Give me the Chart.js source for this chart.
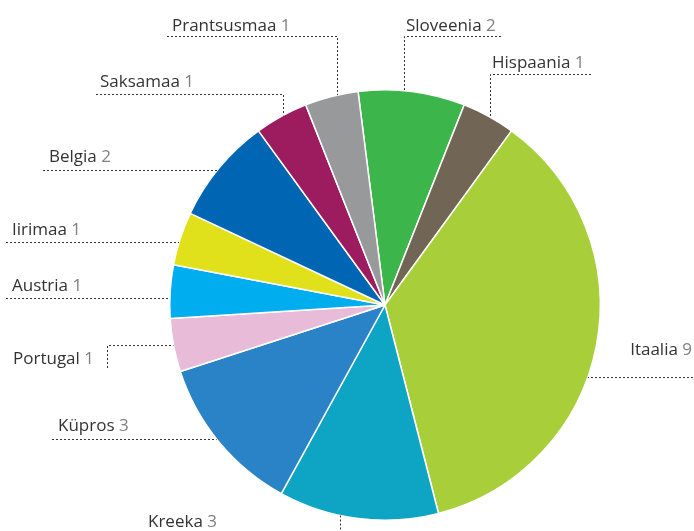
<!DOCTYPE html>
<html>
<head>
<meta charset="utf-8">
<script src="https://cdn.jsdelivr.net/npm/chart.js@4.4.1/dist/chart.umd.min.js"></script>
<style>
html,body{margin:0;padding:0;background:#fff;}
#wrap{width:694px;height:531px;position:relative;}
</style>
</head>
<body>
<div id="wrap"><canvas id="c" width="694" height="531"></canvas></div>
<script>
const categories = ["Sloveenia","Hispaania","Itaalia","Kreeka","Küpros","Portugal","Austria","Iirimaa","Belgia","Saksamaa","Prantsusmaa"];
const values = [2,1,9,3,3,1,1,1,2,1,1];
const colors = ["#3cb54a","#716555","#a8cf3a","#0ea5c4","#2a82c7","#e8bbd8","#00aeef","#e1e11b","#0066b3","#9c1c5f","#98999b"];

// Label layout: text position, and leader definition
const layout = {
  "Prantsusmaa": {tx:172, ty:31, align:"left", type:"v", hy:36, hx:167, vx:337},
  "Sloveenia":   {tx:406, ty:31, align:"left", type:"v", hy:36, hx:501, vx:404},
  "Hispaania":   {tx:492, ty:68, align:"left", type:"v", hy:74, hx:591, vx:490},
  "Saksamaa":    {tx:100, ty:87, align:"left", type:"v", hy:94, hx:96, vx:283},
  "Belgia":      {tx:49,  ty:162, align:"left", type:"h", hy:170, hx:43},
  "Iirimaa":     {tx:12,  ty:235, align:"left", type:"h", hy:242, hx:6},
  "Austria":     {tx:12,  ty:291, align:"left", type:"h", hy:298, hx:6},
  "Portugal":    {tx:13,  ty:364, align:"left", type:"pv", hy:345, vx:107, vEnd:368},
  "Küpros":      {tx:58,  ty:431, align:"left", type:"h", hy:439, hx:52},
  "Kreeka":      {tx:148, ty:527, align:"left", type:"vb", vx:340, vEnd:531},
  "Itaalia":     {tx:692, ty:355, align:"right", type:"h", hy:377, hx:693}
};

const labelPlugin = {
  id: "leaderLabels",
  afterDraw(chart) {
    const ctx = chart.ctx;
    const meta = chart.getDatasetMeta(0);
    const arc0 = meta.data[0];
    const cx = arc0.x, cy = arc0.y, r = arc0.outerRadius;
    const circX = (y, side) => cx + side * Math.sqrt(Math.max(0, r*r - (y-cy)*(y-cy)));
    const circYTop = (x) => cy - Math.sqrt(Math.max(0, r*r - (x-cx)*(x-cx)));
    const circYBot = (x) => cy + Math.sqrt(Math.max(0, r*r - (x-cx)*(x-cx)));
    ctx.save();
    ctx.strokeStyle = "#333";
    ctx.lineWidth = 1;
    ctx.setLineDash([2,2]);
    categories.forEach((name, i) => {
      const L = layout[name];
      const mid = (meta.data[i].startAngle + meta.data[i].endAngle)/2;
      const side = Math.cos(mid) >= 0 ? 1 : -1;
      ctx.beginPath();
      if (L.type === "v") {
        ctx.moveTo(L.hx, L.hy + 0.5);
        ctx.lineTo(L.vx + 0.5, L.hy + 0.5);
        ctx.lineTo(L.vx + 0.5, circYTop(L.vx));
      } else if (L.type === "h") {
        ctx.moveTo(L.hx, L.hy + 0.5);
        ctx.lineTo(circX(L.hy, side), L.hy + 0.5);
      } else if (L.type === "pv") {
        ctx.moveTo(L.vx + 0.5, L.vEnd);
        ctx.lineTo(L.vx + 0.5, L.hy + 0.5);
        ctx.lineTo(circX(L.hy, side), L.hy + 0.5);
      } else if (L.type === "vb") {
        ctx.moveTo(L.vx + 0.5, circYBot(L.vx));
        ctx.lineTo(L.vx + 0.5, L.vEnd);
      }
      ctx.stroke();
    });
    ctx.setLineDash([]);
    ctx.font = "17px 'Open Sans', sans-serif";
    ctx.textBaseline = "alphabetic";
    categories.forEach((name, i) => {
      const L = layout[name];
      const numStr = " " + values[i];
      const wName = ctx.measureText(name).width;
      const wNum = ctx.measureText(numStr).width;
      let x = L.align === "right" ? L.tx - wName - wNum : L.tx;
      ctx.textAlign = "left";
      ctx.fillStyle = "#333333";
      ctx.fillText(name, x, L.ty);
      ctx.fillStyle = "#808080";
      ctx.fillText(numStr, x + wName, L.ty);
    });
    ctx.restore();
  }
};

new Chart(document.getElementById("c"), {
  type: "pie",
  data: {
    labels: categories,
    datasets: [{
      data: values,
      backgroundColor: colors,
      borderColor: "#ffffff",
      borderWidth: 1.5
    }]
  },
  options: {
    responsive: false,
    animation: false,
    rotation: -7.2,
    layout: {padding: {top: 89, bottom: 10, left: 169, right: 93}},
    plugins: {legend: {display: false}, tooltip: {enabled: false}}
  },
  plugins: [labelPlugin]
});
</script>
</body>
</html>
